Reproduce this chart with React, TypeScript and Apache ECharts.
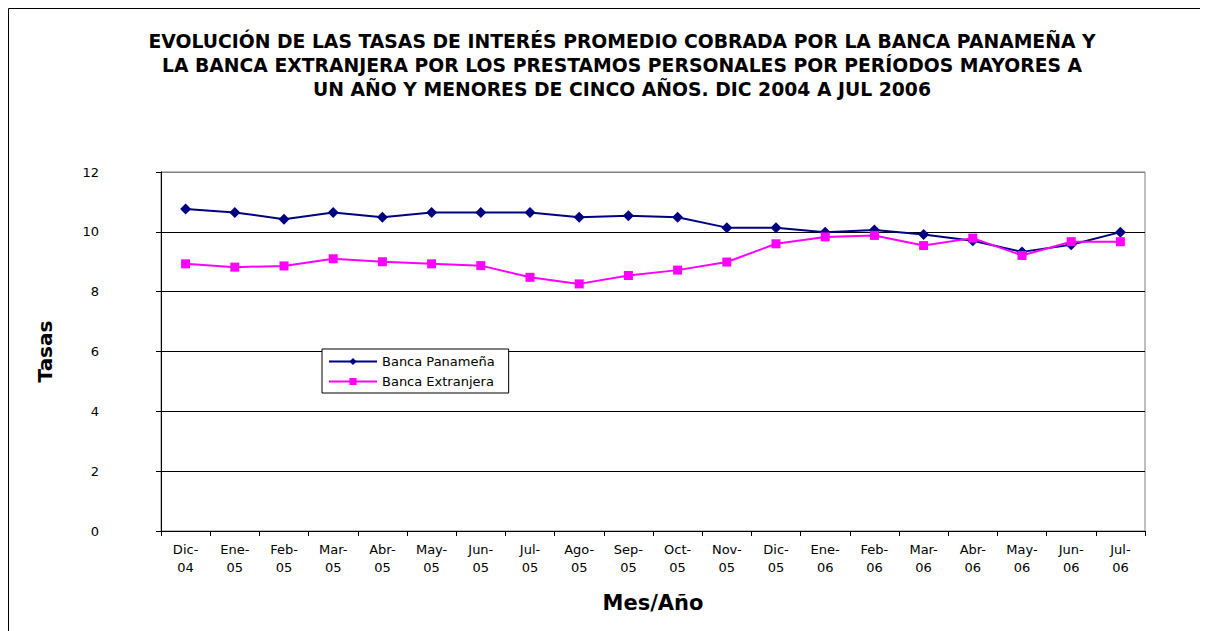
import React, { useEffect, useRef } from "react";
import * as echarts from "echarts";

const categories = [
  "Dic-\n04", "Ene-\n05", "Feb-\n05", "Mar-\n05", "Abr-\n05", "May-\n05", "Jun-\n05",
  "Jul-\n05", "Ago-\n05", "Sep-\n05", "Oct-\n05", "Nov-\n05", "Dic-\n05", "Ene-\n06",
  "Feb-\n06", "Mar-\n06", "Abr-\n06", "May-\n06", "Jun-\n06", "Jul-\n06",
];

const bancaPanamena = [
  10.76, 10.65, 10.42, 10.65, 10.49, 10.65, 10.65, 10.65, 10.49, 10.54,
  10.49, 10.14, 10.14, 9.99, 10.06, 9.91, 9.70, 9.33, 9.57, 9.99,
];

const bancaExtranjera = [
  8.93, 8.82, 8.86, 9.10, 9.00, 8.93, 8.87, 8.48, 8.26, 8.54,
  8.72, 8.99, 9.60, 9.83, 9.88, 9.54, 9.79, 9.21, 9.67, 9.67,
];

const seriesNames = ["Banca Panameña", "Banca Extranjera"];

const titleLines = [
  "EVOLUCIÓN DE LAS TASAS DE INTERÉS PROMEDIO COBRADA POR LA BANCA PANAMEÑA Y",
  "LA BANCA EXTRANJERA POR LOS PRESTAMOS PERSONALES POR PERÍODOS MAYORES A",
  "UN AÑO Y MENORES DE CINCO AÑOS. DIC 2004 A JUL 2006",
];

const yAxisName = "Tasas";
const xAxisName = "Mes/Año";

export default function App() {
  const ref = useRef<HTMLDivElement>(null);

  useEffect(() => {
    if (!ref.current) return;
    const chart = echarts.init(ref.current, null, { renderer: "svg" });
    const font = "'DejaVu Sans', Arial, sans-serif";
    chart.setOption({
      animation: false,
      backgroundColor: "#fff",
      textStyle: { fontFamily: font },
      title: {
        text: titleLines.join("\n"),
        left: 609,
        textAlign: "center",
        top: 16,
        textStyle: {
          fontFamily: font,
          fontSize: 18.8,
          fontWeight: "bold",
          color: "#000",
          lineHeight: 24,
        },
      },
      graphic: [
        {
          type: "line",
          shape: { x1: 0.5, y1: 0.5, x2: 1400, y2: 0.5 },
          style: { stroke: "#000", lineWidth: 1 },
          silent: true,
        },
        {
          type: "line",
          shape: { x1: 0.5, y1: 0.5, x2: 0.5, y2: 700 },
          style: { stroke: "#000", lineWidth: 1 },
          silent: true,
        },
      ],
      legend: {
        orient: "vertical",
        left: 314,
        top: 341,
        backgroundColor: "#fff",
        borderColor: "#000",
        borderWidth: 1,
        padding: [6, 14, 5, 6],
        itemGap: 7,
        itemWidth: 48,
        itemHeight: 9,
        textStyle: { fontFamily: font, fontSize: 13, color: "#000" },
        data: seriesNames,
      },
      grid: {
        left: 153,
        top: 164,
        right: 63,
        bottom: 100,
        show: true,
        borderColor: "#808080",
        borderWidth: 1,
        backgroundColor: "#fff",
      },
      xAxis: {
        type: "category",
        data: categories,
        boundaryGap: true,
        name: xAxisName,
        nameLocation: "middle",
        nameGap: 61,
        nameTextStyle: { fontFamily: font, fontSize: 21, fontWeight: "bold", color: "#000" },
        axisLine: { lineStyle: { color: "#000", width: 1 } },
        axisTick: { show: true, inside: false, length: 5, lineStyle: { color: "#000" } },
        axisLabel: {
          interval: 0,
          fontFamily: font,
          fontSize: 13,
          color: "#000",
          lineHeight: 18,
          margin: 9,
        },
        splitLine: { show: false },
      },
      yAxis: {
        type: "value",
        min: 0,
        max: 12,
        interval: 2,
        name: yAxisName,
        nameLocation: "middle",
        nameGap: 106,
        nameRotate: 90,
        nameTextStyle: { fontFamily: font, fontSize: 20, fontWeight: "bold", color: "#000" },
        axisLine: { show: true, lineStyle: { color: "#000", width: 1 } },
        axisTick: { show: true, inside: false, length: 5, lineStyle: { color: "#000" } },
        axisLabel: { fontFamily: font, fontSize: 13, color: "#000", margin: 62 },
        splitLine: {
          show: true,
          lineStyle: {
            color: ["#000", "#000", "#000", "#000", "#000", "#000", "#808080"],
            width: 1,
          },
        },
      },
      series: [
        {
          name: seriesNames[0],
          type: "line",
          data: bancaPanamena,
          symbol: "diamond",
          symbolSize: 11,
          color: "#000080",
          lineStyle: { color: "#000080", width: 2 },
          itemStyle: { color: "#000080" },
          z: 2,
        },
        {
          name: seriesNames[1],
          type: "line",
          data: bancaExtranjera,
          symbol: "rect",
          symbolSize: 9,
          color: "#FF00FF",
          lineStyle: { color: "#FF00FF", width: 2 },
          itemStyle: { color: "#FF00FF" },
          z: 3,
        },
      ],
    });
    return () => chart.dispose();
  }, []);

  return <div ref={ref} style={{ width: 1200, height: 623 }} />;
}
